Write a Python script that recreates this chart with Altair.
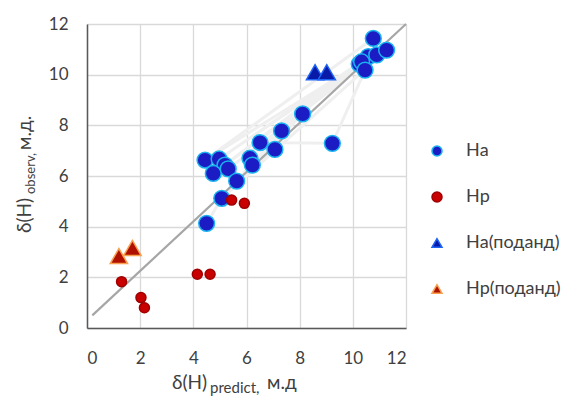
import altair as alt
import pandas as pd

# ---- data ----
series = ["Hа", "Hр", "Hа(поданд)", "Hр(поданд)"]

na_x = [10.77, 4.44, 10.24, 4.97, 10.58, 5.19, 10.33, 4.75, 10.90, 5.31, 8.11,
        5.63, 7.32, 6.13, 6.22, 7.07, 6.51, 9.23, 10.46, 11.27, 5.07, 4.50]
na_y = [11.43, 6.63, 10.42, 6.67, 10.71, 6.43, 10.51, 6.10, 10.78, 6.28, 8.45,
        5.80, 7.78, 6.70, 6.43, 7.05, 7.32, 7.29, 10.18, 10.97, 5.12, 4.13]

hp_x = [5.44, 5.92, 4.15, 4.63, 1.30, 2.03, 2.16]
hp_y = [5.05, 4.92, 2.12, 2.12, 1.83, 1.20, 0.80]

na_lig_x = [8.58, 9.02]
na_lig_y = [10.10, 10.10]

hp_lig_x = [1.20, 1.71]
hp_lig_y = [2.84, 3.16]

fit_x = [0.2, 12.0]
fit_y = [0.5, 12.0]

ticks = [0, 2, 4, 6, 8, 10, 12]

x_title = ["δ(H)", "predict,", "м.д"]
y_title = ["δ(H)", "observ,", "м.д."]

# ---- styles ----
fills = ["#1c1cc4", "#c80000", "#0a1aa8", "#b01000"]
strokes = ["#19b3f0", "#a00000", "#1e64f5", "#f7a050"]
shapes = ["circle", "circle", "triangle-up", "triangle-up"]
sizes = [250, 100, 300, 300]
FONT = "Lato"
TXT = "#404040"

rows = []
k = 0
for xs_, ys_, s, sz in [(na_x, na_y, series[0], sizes[0]), (hp_x, hp_y, series[1], sizes[1]),
                        (na_lig_x, na_lig_y, series[2], sizes[2]),
                        (hp_lig_x, hp_lig_y, series[3], sizes[3])]:
    for a, b in zip(xs_, ys_):
        rows.append({"x": a, "y": b, "s": s, "k": k, "sz": sz})
        k += 1
pts = pd.DataFrame(rows)
na_df = pd.DataFrame({"x": na_x, "y": na_y, "k": list(range(len(na_x)))})
fit_df = pd.DataFrame({"x": fit_x, "y": fit_y})

xs = alt.Scale(domain=[0, 12], nice=False)
ys = alt.Scale(domain=[0, 12], nice=False)

axis_common = dict(values=ticks, title=None, ticks=False, tickSize=0,
                   labelFont=FONT, labelFontSize=17, labelColor=TXT,
                   domainColor="#595959", domainWidth=1.5,
                   gridColor="#d9d9d9", gridWidth=1.3)
x_enc = alt.X("x:Q", scale=xs, axis=alt.Axis(labelPadding=22, **axis_common))
y_enc = alt.Y("y:Q", scale=ys, axis=alt.Axis(labelPadding=19, **axis_common))

leg = alt.Legend(title=None, orient="none", legendX=341, legendY=118,
                 labelFont=FONT, labelFontSize=18, labelColor=TXT,
                 labelOffset=20, rowPadding=28, symbolSize=100,
                 symbolStrokeWidth=1.5)

faint = alt.Chart(na_df).mark_line(color="#efefef", strokeWidth=3).encode(
    x=x_enc, y=y_enc, order="k:Q")

fit = alt.Chart(fit_df).mark_line(color="#a6a6a6", strokeWidth=2.2).encode(
    x=alt.X("x:Q", scale=xs), y=alt.Y("y:Q", scale=ys))

points = alt.Chart(pts).mark_point(filled=True, strokeWidth=1.5, opacity=1).encode(
    x=alt.X("x:Q", scale=xs),
    y=alt.Y("y:Q", scale=ys),
    fill=alt.Fill("s:N", scale=alt.Scale(domain=series, range=fills), legend=leg),
    stroke=alt.Stroke("s:N", scale=alt.Scale(domain=series, range=strokes), legend=leg),
    shape=alt.Shape("s:N", scale=alt.Scale(domain=series, range=shapes), legend=leg),
    size=alt.Size("sz:Q", scale=None),
    order=alt.Order("k:Q"),
)

def txt(t, x, y, size, angle=0):
    return alt.Chart(pd.DataFrame({"t": [t]})).mark_text(
        font=FONT, fontSize=size, color=TXT, align="left", baseline="alphabetic",
        angle=angle).encode(x=alt.value(x), y=alt.value(y), text="t:N")

titles = [
    txt(x_title[0], 85, 365, 19),
    txt(x_title[1], 123, 369, 15),
    txt(x_title[2], 180, 365, 19),
    txt(y_title[0], -56, 209, 19, 270),
    txt(y_title[1], -52, 170, 13, 270),
    txt(y_title[2], -56, 126, 19, 270),
]

chart = alt.layer(faint, fit, points, *titles).properties(
    width=319, height=304,
    autosize=alt.AutoSizeParams(type="none"),
    padding={"left": 79, "top": 16, "right": 160, "bottom": 69},
).configure_view(stroke=None)

chart.save("out.html", embed_options={"renderer": "svg", "actions": False})
